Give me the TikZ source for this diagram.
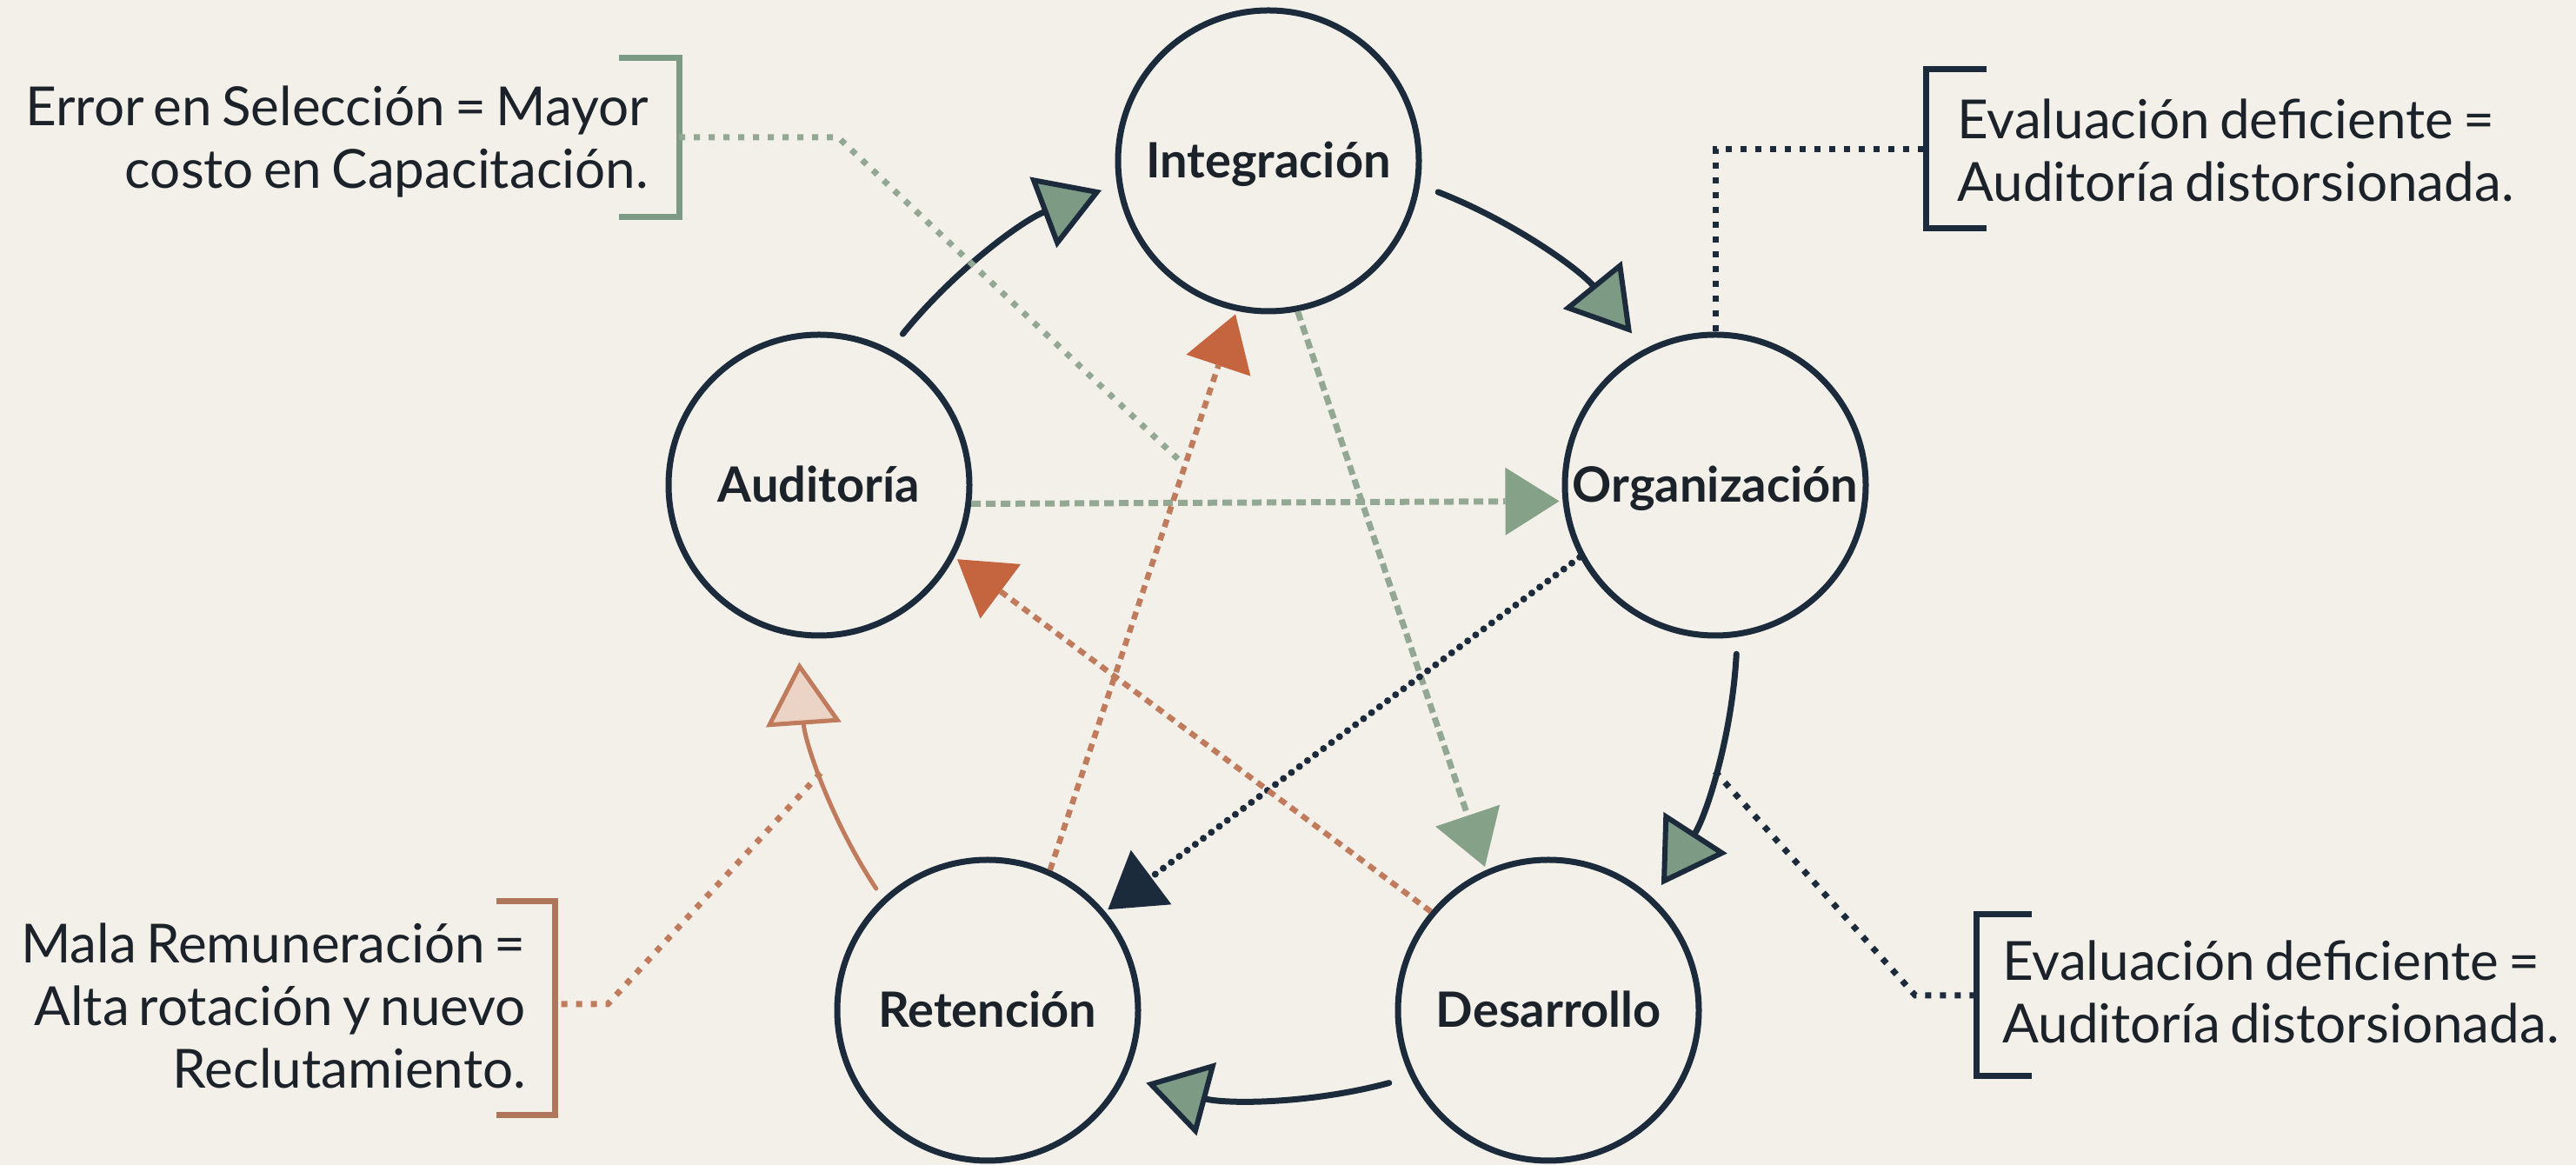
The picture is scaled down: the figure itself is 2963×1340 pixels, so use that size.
\documentclass[tikz,border=0pt]{standalone}
\usepackage{fontspec}
\setmainfont{Lato}[WordSpace=0.7]
\usetikzlibrary{arrows.meta,calc}

\definecolor{paper}{HTML}{F3F0EA}
\definecolor{navy}{HTML}{1B2B3B}
\definecolor{sage}{HTML}{7D9A84}
\definecolor{sagelight}{HTML}{92A892}
\definecolor{sagetip}{HTML}{85A288}
\definecolor{rust}{HTML}{C4653F}
\definecolor{rustlight}{HTML}{BF7B5B}
\definecolor{peach}{HTML}{EBD4C5}
\definecolor{clay}{HTML}{B0765C}
\definecolor{ink}{HTML}{1C2229}

\tikzset{
  stage/.style={circle, draw=navy, line width=7pt, minimum size=346pt, inner sep=0pt,
    font=\fontsize{56}{60}\selectfont\bfseries, text=ink, text height=40pt, text depth=0pt},
  cyclearc/.style={draw=navy, line width=7pt, line cap=round,
    -{Triangle[length=72pt,width=86pt,fill=sage,line width=6pt]}},
  returnarc/.style={draw=rustlight, line width=5pt, line cap=round,
    -{Triangle[length=72pt,width=86pt,fill=peach]}},
  greenlink/.style={draw=sagelight, line width=7pt, dash pattern=on 11pt off 6pt,
    shorten >=4pt, -{Triangle[length=62pt,width=78pt,line width=0pt,fill=sagetip,color=sagetip]}},
  rustlink/.style={draw=rustlight, line width=6.5pt, dash pattern=on 9pt off 7pt,
    shorten >=4pt, -{Triangle[length=62pt,width=78pt,line width=0pt,fill=rust,color=rust]}},
  navylink/.style={draw=navy, line width=8pt, line cap=round, dash pattern=on 0pt off 11.5pt,
    shorten >=4pt, -{Triangle[length=62pt,width=78pt,line width=0pt,fill=navy,color=navy]}},
  pointer/.style={line width=7pt, dash pattern=on 7pt off 10pt},
  bracket/.style={line width=7pt},
  note/.style={inner sep=0pt, text=ink, font=\fontsize{62}{72}\selectfont},
}

\begin{document}
\begin{tikzpicture}[x=1pt, y=1pt]
  % canvas
  \fill[paper] (0,0) rectangle (2963,1340);
  \useasboundingbox (0,0) rectangle (2963,1340);

  % centre of the cycle
  \coordinate (ctr) at (1458,616);

  % the five stages
  \node[stage] (int) at (1459,1155) {Integración};
  \node[stage] (aud) at (942,782) {Auditoría};
  \node[stage] (org) at (1973,782) {Organización};
  \node[stage] (ret) at (1136,178) {Retención};
  \node[stage] (des) at (1781,178) {Desarrollo};

  % main cycle arcs
  \draw[cyclearc] ([shift={(141:540pt)}]ctr) arc[start angle=141, end angle=110.7, radius=540pt];
  \draw[cyclearc] ([shift={(68.7:540pt)}]ctr) arc[start angle=68.7, end angle=39.1, radius=540pt];
  \draw[cyclearc] ([shift={(-3:540pt)}]ctr) arc[start angle=-3, end angle=-33, radius=540pt];
  \draw[cyclearc] ([shift={(285:540pt)}]ctr) arc[start angle=285, end angle=255, radius=540pt];
  \draw[returnarc] ([shift={(213.5:540pt)}]ctr) arc[start angle=213.5, end angle=184, radius=540pt];

  % cross links
  \draw[greenlink] (aud.-7) -- (org.186);
  \draw[greenlink] (int.-79) -- (des.114);
  \draw[navylink] (org.208) -- (ret.40);
  \draw[rustlink] (des.140) -- (aud.-28);
  \draw[rustlink] (ret.66) -- (int.258);

  % annotation: top left
  \node[note, anchor=base east] (noteTL) at (746,1195)
    {\begin{tabular}[t]{@{}r@{}}Error en Selección = Mayor\\costo en Capacitación.\end{tabular}};
  \draw[bracket, draw=sage] (712,1273) -- (781,1273) -- (781,1090) -- (712,1090);
  \coordinate (brTL) at (781,1182);
  \coordinate (tgTL) at (1355,812);
  \draw[pointer, draw=sagelight] (brTL) -- (964,1182) -- (tgTL);

  % annotation: top right
  \node[note, anchor=base west] (noteTR) at (2251,1180)
    {\begin{tabular}[t]{@{}l@{}}Evaluación deficiente =\\Auditoría distorsionada.\end{tabular}};
  \draw[bracket, draw=navy] (2285,1260) -- (2215,1260) -- (2215,1077) -- (2285,1077);
  \coordinate (brTR) at (2215,1168);
  \draw[pointer, draw=navy] (org.north) |- (brTR);

  % annotation: bottom right
  \node[note, anchor=base west] (noteBR) at (2303,212)
    {\begin{tabular}[t]{@{}l@{}}Evaluación deficiente =\\Auditoría distorsionada.\end{tabular}};
  \draw[bracket, draw=navy] (2337,288) -- (2273,288) -- (2273,102) -- (2337,102);
  \coordinate (brBR) at (2273,195);
  \coordinate (onOD) at ([shift={(-17.6:540pt)}]ctr);
  \draw[pointer, draw=navy] (onOD) -- (2203,195) -- (brBR);

  % annotation: bottom left
  \node[note, anchor=base east] (noteBL) at (605,232)
    {\begin{tabular}[t]{@{}r@{}}Mala Remuneración =\\Alta rotación y nuevo\\Reclutamiento.\end{tabular}};
  \draw[bracket, draw=clay] (571,303) -- (638,303) -- (638,57) -- (571,57);
  \coordinate (brBL) at (638,185);
  \coordinate (onRA) at ([shift={(197.8:540pt)}]ctr);
  \draw[pointer, draw=rustlight] (onRA) -- (699,185) -- (brBL);
\end{tikzpicture}
\end{document}
